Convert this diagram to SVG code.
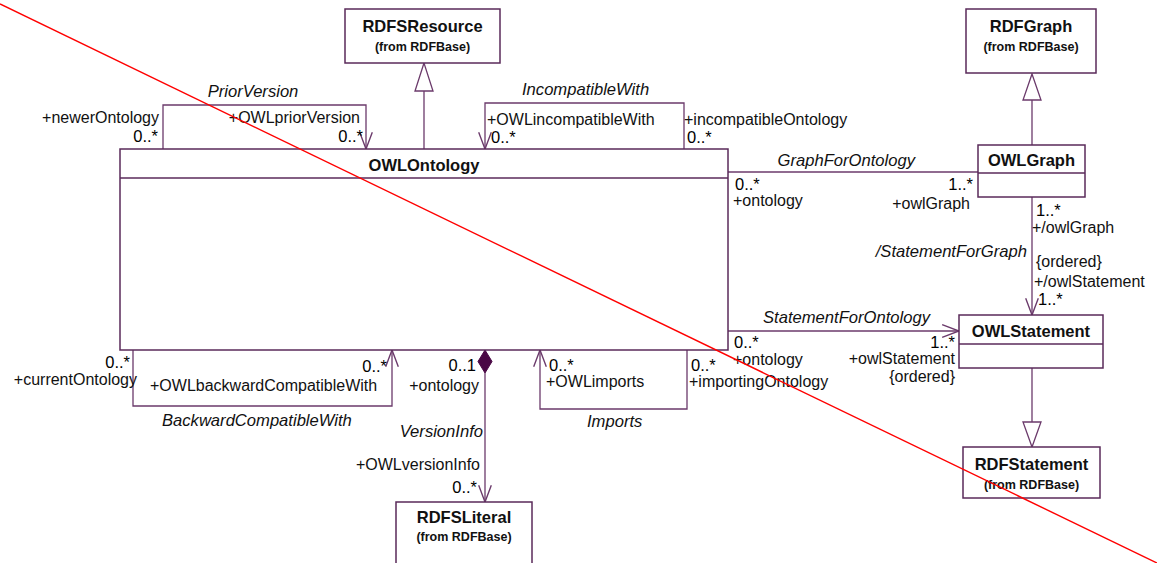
<svg xmlns="http://www.w3.org/2000/svg" width="1157" height="563" viewBox="0 0 1157 563">
<defs>
<style>
.box{fill:#ffffff;stroke:#5a2a5a;stroke-width:1.5}
.ln{fill:none;stroke:#6b3a6b;stroke-width:1.3}
.title{font-family:"Liberation Sans",Arial,sans-serif;font-weight:bold;font-size:16.5px;fill:#111;text-anchor:middle}
.from{font-family:"Liberation Sans",Arial,sans-serif;font-weight:bold;font-size:12.5px;fill:#111;text-anchor:middle}
.lb{font-family:"Liberation Sans",Arial,sans-serif;font-size:16px;fill:#111}
.it{font-family:"Liberation Sans",Arial,sans-serif;font-size:16.6px;font-style:italic;fill:#111}
.mul{font-family:"Liberation Sans",Arial,sans-serif;font-size:16.5px;fill:#000}
.e{text-anchor:end}
.m{text-anchor:middle}
</style>
<marker id="open" markerUnits="userSpaceOnUse" markerWidth="20" markerHeight="20" viewBox="-17 -8 19 16" refX="0" refY="0" orient="auto">
<path d="M-16,-6 L0,0 L-16,6" fill="none" stroke="#6b3a6b" stroke-width="1.3"/>
</marker>
</defs>

<g id="connectors">
<line class="ln" x1="424" y1="149" x2="424" y2="91"/>
<polygon points="424,63 415,91 433,91" fill="#fff" stroke="#6b3a6b" stroke-width="1.3"/>
<line class="ln" x1="1032" y1="145" x2="1032" y2="100"/>
<polygon points="1032,74 1023,100 1041,100" fill="#fff" stroke="#6b3a6b" stroke-width="1.3"/>
<line class="ln" x1="1032" y1="368" x2="1032" y2="422"/>
<polygon points="1032,447 1023,422 1041,422" fill="#fff" stroke="#6b3a6b" stroke-width="1.3"/>
<polyline class="ln" points="163,149 163,105 366,105 366,149" marker-end="url(#open)"/>
<polyline class="ln" points="684,149 684,103 485,103 485,149" marker-end="url(#open)"/>
<line class="ln" x1="728" y1="172" x2="978" y2="172"/>
<line class="ln" x1="1032" y1="197" x2="1032" y2="315" marker-end="url(#open)"/>
<line class="ln" x1="728" y1="331" x2="959" y2="331" marker-end="url(#open)"/>
<polyline class="ln" points="133,350 133,406 392,406 392,350" marker-end="url(#open)"/>
<polyline class="ln" points="687,350 687,409 540,409 540,350" marker-end="url(#open)"/>
<line class="ln" x1="485" y1="373" x2="485" y2="502" marker-end="url(#open)"/>
<polygon points="485,350 492,361.5 485,373 478,361.5" fill="#4a0845" stroke="#4a0845" stroke-width="1"/>

<text class="it m" x="253" y="97">PriorVersion</text>
<text class="lb e" x="159" y="123">+newerOntology</text>
<text class="mul e" x="158" y="142">0..*</text>
<text class="lb e" x="360" y="123">+OWLpriorVersion</text>
<text class="mul e" x="363" y="142">0..*</text>

<text class="it" x="522" y="95">IncompatibleWith</text>
<text class="lb" x="487" y="125">+OWLincompatibleWith</text>
<text class="mul" x="491" y="143">0..*</text>
<text class="lb" x="684" y="125">+incompatibleOntology</text>
<text class="mul" x="687" y="143">0..*</text>

<text class="it e" x="915" y="166">GraphForOntology</text>
<text class="mul" x="735" y="190">0..*</text>
<text class="lb" x="733" y="206">+ontology</text>
<text class="mul e" x="973" y="190">1..*</text>
<text class="lb e" x="970" y="209">+owlGraph</text>

<text class="mul" x="1036" y="216">1..*</text>
<text class="lb" x="1032" y="233">+/owlGraph</text>
<text class="it e" x="1027" y="257">/StatementForGraph</text>
<text class="lb" x="1036" y="267">{ordered}</text>
<text class="lb" x="1034" y="287">+/owlStatement</text>
<text class="mul" x="1038" y="305">1..*</text>

<text class="it" x="763" y="323">StatementForOntology</text>
<text class="mul" x="734" y="348">0..*</text>
<text class="lb" x="733" y="365">+ontology</text>
<text class="mul e" x="955" y="348">1..*</text>
<text class="lb e" x="955" y="364">+owlStatement</text>
<text class="lb e" x="955" y="382">{ordered}</text>

<text class="mul e" x="130" y="368">0..*</text>
<text class="lb e" x="137" y="385">+currentOntology</text>
<text class="lb" x="150" y="391">+OWLbackwardCompatibleWith</text>
<text class="mul e" x="387" y="372">0..*</text>
<text class="it" x="162" y="426">BackwardCompatibleWith</text>

<text class="mul e" x="476" y="371">0..1</text>
<text class="lb e" x="479" y="391">+ontology</text>
<text class="it e" x="483" y="437">VersionInfo</text>
<text class="lb e" x="480" y="470">+OWLversionInfo</text>
<text class="mul e" x="477" y="493">0..*</text>

<text class="mul" x="549" y="371">0..*</text>
<text class="lb" x="546" y="387">+OWLimports</text>
<text class="it" x="587" y="427">Imports</text>
<text class="mul" x="691" y="371">0..*</text>
<text class="lb" x="689" y="387">+importingOntology</text>
</g>

<g id="RDFSResource">
<rect class="box" x="345" y="9" width="155" height="54"/>
<text class="title" x="422.5" y="32">RDFSResource</text>
<text class="from" x="422.5" y="51">(from RDFBase)</text>
</g>

<g id="RDFGraph">
<rect class="box" x="966" y="9" width="130" height="64"/>
<text class="title" x="1031" y="32">RDFGraph</text>
<text class="from" x="1031" y="51">(from RDFBase)</text>
</g>

<g id="OWLOntology">
<rect class="box" x="120" y="149" width="608" height="201"/>
<line class="box" x1="120" y1="178" x2="728" y2="178"/>
<text class="title" x="424" y="171">OWLOntology</text>
</g>

<g id="OWLGraph">
<rect class="box" x="978" y="145" width="107" height="52"/>
<line class="box" x1="978" y1="173" x2="1085" y2="173"/>
<text class="title" x="1031.5" y="166">OWLGraph</text>
</g>

<g id="OWLStatement">
<rect class="box" x="959" y="315" width="144" height="53"/>
<line class="box" x1="959" y1="344" x2="1103" y2="344"/>
<text class="title" x="1031" y="337">OWLStatement</text>
</g>

<g id="RDFStatement">
<rect class="box" x="963" y="447" width="137" height="51"/>
<text class="title" x="1031.5" y="470">RDFStatement</text>
<text class="from" x="1031.5" y="489">(from RDFBase)</text>
</g>

<g id="RDFSLiteral">
<rect class="box" x="396" y="502" width="136" height="70"/>
<text class="title" x="464" y="523">RDFSLiteral</text>
<text class="from" x="464" y="541">(from RDFBase)</text>
</g>

<line x1="0" y1="4" x2="1157" y2="563" stroke="#ff0000" stroke-width="1.4"/>
</svg>
